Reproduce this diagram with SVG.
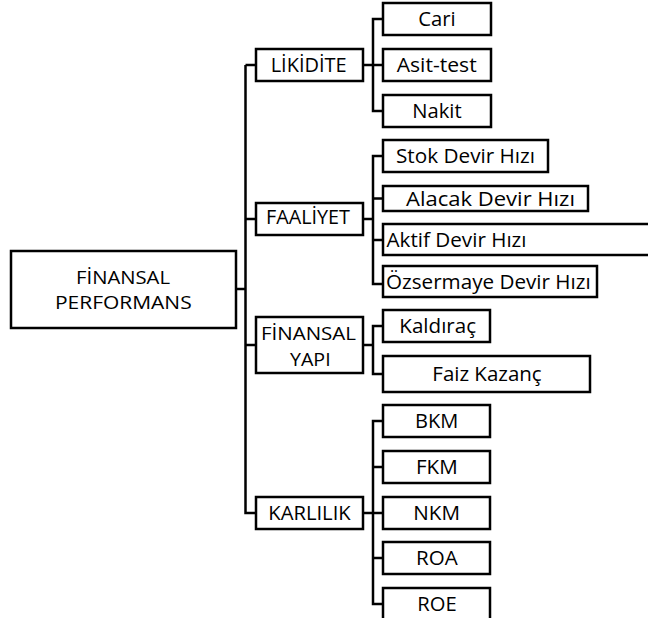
<svg xmlns="http://www.w3.org/2000/svg" width="648" height="618" viewBox="0 0 648 618">
<style>
.box{fill:#fff;stroke:#000;stroke-width:2.5}
.ln{fill:none;stroke:#000;stroke-width:2.5}
text{font-family:"Open Sans","Liberation Sans",sans-serif;font-size:20.5px;fill:#000;text-anchor:middle}
.l{text-anchor:start}
.t2{font-size:18.2px}
</style>
<rect width="648" height="618" fill="#fff"/>
<g id="connectors">
<path class="ln" d="M245.5,65 V513 H256"/>
<path class="ln" d="M236,289 H245.5"/>
<path class="ln" d="M245.5,65 H256 M245.5,219 H256 M245.5,345 H256"/>
<path class="ln" d="M363,65 H373 M383,19 H373 V111 H383 M373,65 H383"/>
<path class="ln" d="M363,219 H373 M383,156 H373 V284 H383 M373,198.5 H383 M373,240 H383"/>
<path class="ln" d="M363,345 H373 M383,326 H373 V374 H383"/>
<path class="ln" d="M363,513 H383 M383,421 H373 V604 H383 M373,467 H383 M373,558 H383"/>
</g>
<g id="finansal-performans"><rect class="box" x="11" y="251" width="225" height="77"/><text class="t2" x="123" y="283.5" textLength="94" lengthAdjust="spacingAndGlyphs">FİNANSAL</text><text class="t2" x="123.3" y="308.5" textLength="136.7" lengthAdjust="spacingAndGlyphs">PERFORMANS</text></g>
<g id="likidite"><rect class="box" x="256" y="49" width="107" height="32"/><text x="308.7" y="72.3" textLength="76" lengthAdjust="spacingAndGlyphs">LİKİDİTE</text></g>
<g id="cari"><rect class="box" x="383" y="3" width="108" height="32"/><text x="437" y="26.3" textLength="37.4" lengthAdjust="spacingAndGlyphs">Cari</text></g>
<g id="asit-test"><rect class="box" x="383" y="49" width="108" height="32"/><text x="436.7" y="72.2" textLength="80" lengthAdjust="spacingAndGlyphs">Asit-test</text></g>
<g id="nakit"><rect class="box" x="383" y="95" width="108" height="32"/><text x="437" y="118.3" textLength="49.4" lengthAdjust="spacingAndGlyphs">Nakit</text></g>
<g id="faaliyet"><rect class="box" x="256" y="203" width="107" height="32"/><text x="308" y="224" textLength="84" lengthAdjust="spacingAndGlyphs">FAALİYET</text></g>
<g id="stok"><rect class="box" x="383" y="140" width="165" height="32"/><text x="465.5" y="163.3" textLength="139" lengthAdjust="spacingAndGlyphs">Stok Devir Hızı</text></g>
<g id="alacak"><rect class="box" x="383" y="186" width="205" height="25"/><text x="490.5" y="205.5" textLength="169" lengthAdjust="spacingAndGlyphs">Alacak Devir Hızı</text></g>
<g id="aktif"><rect class="box" x="383" y="224" width="280" height="31"/><text class="l" x="386.5" y="247" textLength="140" lengthAdjust="spacingAndGlyphs">Aktif Devir Hızı</text></g>
<g id="ozsermaye"><rect class="box" x="383" y="266" width="214" height="31"/><text class="l" x="386" y="289" textLength="204.7" lengthAdjust="spacingAndGlyphs">Özsermaye Devir Hızı</text></g>
<g id="finansal-yapi"><rect class="box" x="256" y="317" width="107" height="56"/><text class="t2" x="308.5" y="340.3" textLength="95" lengthAdjust="spacingAndGlyphs">FİNANSAL</text><text class="t2" x="310.3" y="365.6" textLength="40.7" lengthAdjust="spacingAndGlyphs">YAPI</text></g>
<g id="kaldirac"><rect class="box" x="383" y="310" width="107" height="32"/><text x="437.7" y="333.3" textLength="76.7" lengthAdjust="spacingAndGlyphs">Kaldıraç</text></g>
<g id="faiz-kazanc"><rect class="box" x="383" y="356" width="207" height="36"/><text x="487" y="381.3" textLength="109.4" lengthAdjust="spacingAndGlyphs">Faiz Kazanç</text></g>
<g id="karlilik"><rect class="box" x="256" y="497" width="107" height="32"/><text x="309.5" y="520" textLength="82.4" lengthAdjust="spacingAndGlyphs">KARLILIK</text></g>
<g id="bkm"><rect class="box" x="383" y="405" width="107" height="32"/><text x="436.7" y="428.3" textLength="43.3" lengthAdjust="spacingAndGlyphs">BKM</text></g>
<g id="fkm"><rect class="box" x="383" y="451" width="107" height="32"/><text x="436.8" y="474.3" textLength="41.7" lengthAdjust="spacingAndGlyphs">FKM</text></g>
<g id="nkm"><rect class="box" x="383" y="497" width="107" height="32"/><text x="436.7" y="520.3" textLength="46.7" lengthAdjust="spacingAndGlyphs">NKM</text></g>
<g id="roa"><rect class="box" x="383" y="542" width="107" height="32"/><text x="436.8" y="565.3" textLength="41.7" lengthAdjust="spacingAndGlyphs">ROA</text></g>
<g id="roe"><rect class="box" x="383" y="588" width="107" height="34"/><text x="437" y="611.3" textLength="39.4" lengthAdjust="spacingAndGlyphs">ROE</text></g>
</svg>
